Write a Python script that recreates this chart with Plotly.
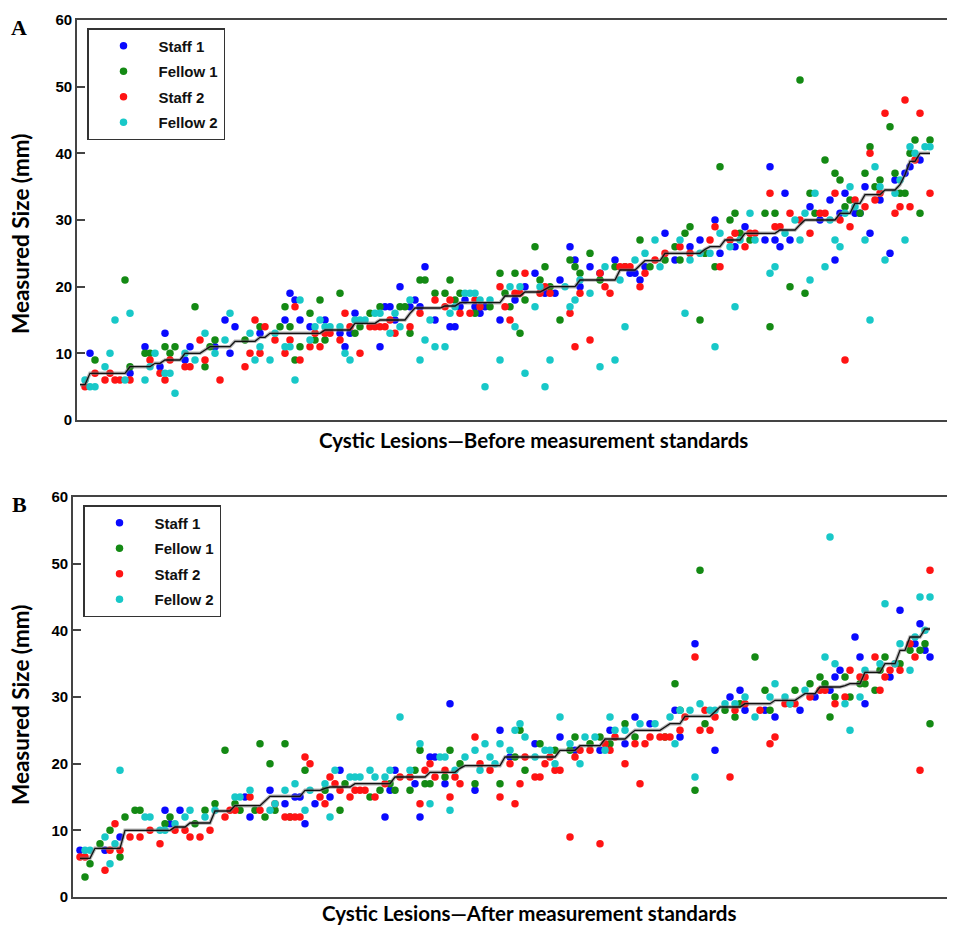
import numpy as np
import plotly.graph_objects as go

# ---------------- Panel A: before measurement standards ----------------
A_mean_levels = [5.3, 7.0, 8.0, 8.5, 9.0, 10.0, 10.5, 11.0, 11.8, 12.4, 13.0, 13.5, 14.5, 15.0, 16.0,
                 16.8, 17.1, 17.6, 18.6, 19.2, 19.6, 20.0, 21.0, 22.5, 23.2, 23.9, 25.0, 25.6, 26.0, 27.0,
                 28.0, 28.5, 29.3, 30.0, 31.0, 32.5, 33.8, 34.5, 35.3, 36.8, 38.8, 40.0]
A_mean_counts = [2, 8, 5, 2, 4, 4, 1, 5, 5, 2, 11, 6, 5, 6, 1, 6, 3, 9, 4, 4, 1, 6, 8, 4, 1, 4, 8, 1, 3, 4,
                 7, 4, 1, 7, 3, 2, 4, 3, 1, 1, 2, 3]

A_staff1_case = [3, 11, 14, 17, 18, 22, 23, 28, 30, 31, 32, 37, 42, 43, 44, 45, 47, 50, 53, 54, 55, 56, 61, 62, 63,
                 64, 65, 67, 68, 69, 70, 72, 75, 76, 77, 78, 80, 81, 82, 85, 88, 90, 92, 94, 96, 97, 99, 100, 101,
                 103, 105, 108, 111, 112, 113, 114, 118, 120, 123, 125, 128, 129, 132, 134, 138, 139, 140, 141,
                 142, 143, 147, 149, 151, 152, 153, 154, 156, 157, 158, 159, 161, 163, 164, 166, 167, 169]
A_staff1_mm = [10, 7, 11, 8, 13, 9, 11, 11, 15, 10, 14, 13, 15, 19, 18, 15, 14, 15, 13, 11, 13, 16, 11, 17, 17,
               15, 20, 17, 18, 17, 23, 15, 14, 14, 17, 18, 17, 16, 17, 15, 18, 20, 22, 19, 19, 21, 26, 24, 20,
               23, 22, 24, 22, 22, 21, 23, 28, 24, 26, 27, 30, 25, 26, 29, 27, 38, 27, 26,
               34, 27, 32, 30, 33, 24, 31, 34, 31, 31, 35, 28, 33, 25, 36, 37, 38, 39]

A_fellow1_case = [4, 10, 11, 14, 15, 18, 19, 20, 24, 26, 27, 28, 34, 37, 41, 42,
                  43, 44, 45, 47, 48, 49, 50, 53, 56, 57, 59, 61, 65, 66, 67, 69, 70, 72, 74, 75, 76, 77, 80, 83, 85, 86,
                  87, 88, 89, 90, 92, 93, 94, 95, 97, 99, 100, 101, 103, 105, 108, 110, 113, 115, 118, 120, 121, 122,
                  123, 125, 126, 128, 129, 131,
                  132, 133, 135, 138, 139, 140, 143, 145, 146, 147, 148, 150, 152, 153, 154, 155, 157, 158, 159, 160,
                  161, 163, 164, 165, 166, 167, 168, 169, 171]
A_fellow1_mm = [9, 21, 8, 10, 10, 11, 10, 11, 17, 8, 11, 12, 12, 14, 14, 17,
                14, 9, 11, 16, 12, 18, 12, 19, 13, 14, 16, 17, 17, 17, 13, 21, 21, 19, 19, 21, 18, 19, 16, 17, 22, 19,
                17, 22, 13, 18, 26, 21, 23, 20, 15, 24, 23, 22, 25, 21, 23, 23, 27, 23, 24, 26, 24, 28,
                29, 15, 25, 23, 38, 30,
                31, 28, 27, 31, 14, 31, 20, 51, 19, 34, 31, 39, 37, 36, 32, 33, 31, 37, 41, 35,
                36, 44, 37, 34, 34, 40, 42, 31, 42]

A_staff2_case = [2, 4, 6, 7, 8, 9, 11, 15, 17, 18, 19, 22, 23, 25, 26, 29, 34, 35, 36, 37, 38, 40, 42,
                 43, 44, 45, 47, 48, 49, 50, 51, 53, 54, 55, 57, 59, 60, 61, 62, 63, 64, 67, 69, 72, 74, 75, 77, 79,
                 80, 81, 85, 86, 87,
                 88, 89, 90, 93, 94, 95, 99, 100, 101, 103, 105, 106, 107, 109, 110, 111, 113, 114, 116, 118, 121,
                 123, 127, 128, 129, 131,
                 132, 134, 135, 136, 139, 140, 141, 143, 145, 147, 149, 150, 152, 153, 154, 155, 156, 158, 159, 160,
                 161, 162, 164, 165, 166, 167, 168, 169, 171]
A_staff2_mm = [5, 7, 6, 7, 6, 6, 6, 9, 7, 6, 9, 8, 8, 12, 9, 6, 8, 10, 15, 10, 14, 12, 10,
               12, 17, 9, 11, 13, 11, 13, 13, 12, 16, 14, 10, 14, 14, 14, 14, 15, 13, 14, 16, 18, 17, 18, 16, 16,
               18, 17, 20, 17, 15,
               19, 19, 22, 19, 20, 19, 16, 11, 19, 12, 22, 20, 19, 23, 23, 23, 20, 22, 24, 25, 26,
               25, 27, 29, 23, 27,
               28, 26, 28, 28, 34, 29, 29, 31, 30, 28, 31, 31, 34, 30, 9, 29, 33, 32, 40, 33,
               34, 46, 31, 32, 48, 32, 39, 46, 34]

A_fellow2_case = [2, 3, 4, 6, 7, 8, 10, 11, 14, 15, 16, 18, 19, 20, 22, 24, 26, 28, 30, 31, 35, 36, 37, 39, 40, 42,
                  43, 44, 45, 47, 48, 49, 50, 51, 53, 54, 55, 56, 57, 58, 60, 61, 63, 64, 65, 67, 69, 70, 71, 72, 74,
                  75, 76, 78, 79, 80, 81, 82, 83, 85, 87,
                  88, 89, 90, 92, 93, 94, 95, 98, 99, 100, 101, 103, 105, 106, 108, 109, 110, 112, 114, 116, 117, 121,
                  122, 123, 125, 127, 128, 129, 131,
                  132, 133, 135, 136, 139, 140, 142, 144, 145, 146, 147, 148, 150, 151, 152, 153, 154, 155, 156, 158,
                  159, 160, 161, 162, 164, 165, 166, 167, 168, 170, 171]
A_fellow2_mm = [6, 5, 5, 8, 10, 15, 6, 16, 6, 8, 10, 7, 7, 4, 10, 9, 13, 10, 12, 16, 13, 9, 11, 9, 13, 11,
                11, 6, 18, 12, 14, 15, 14, 14, 14, 10, 9, 15, 15, 15, 16, 16, 13, 16, 14, 18, 9, 12, 15, 11, 11,
                16, 17, 19, 19, 19, 18, 5, 18, 9, 20,
                14, 20, 7, 17, 20, 5, 9, 20, 17, 18, 21, 19, 8, 23, 9, 21, 14, 24, 25, 27, 23, 27,
                16, 24, 25, 25, 11, 28, 26,
                17, 27, 31, 27, 22, 23, 28, 30, 27, 31, 21, 34, 23, 30, 27, 26, 31, 35, 32, 27,
                15, 38, 35, 24, 34, 36, 27, 41, 40, 41, 41]

# ---------------- Panel B: after measurement standards ----------------
B_mean_levels = [5.8, 7.3, 10.0, 10.5, 11.1, 12.9, 13.7, 14.4, 15.1, 16.0, 16.3, 16.5, 17.0, 18.0, 18.7,
                 19.3, 19.7, 21.0, 22.0, 22.7, 23.7, 24.4, 25.0, 25.5, 26.0, 27.1, 27.8, 28.5, 29.0, 29.5,
                 30.0, 30.5, 31.5, 31.7, 32.0, 33.7, 35.0, 37.0, 39.0, 40.2]
B_mean_counts = [3, 6, 10, 3, 5, 4, 6, 1, 7, 4, 1, 5, 8, 7, 6, 1, 8, 11, 4, 5, 5, 1, 6, 1, 3, 6, 1, 5, 6, 5,
                 1, 3, 5, 1, 3, 4, 3, 2, 3, 2]

B_staff1_case = [1, 6, 9, 18, 19, 21, 34, 35, 39, 42,
                 44, 45, 46, 48, 51, 53, 62, 63, 64, 68, 69, 71, 72, 74, 75, 80, 85, 87,
                 92, 97, 100, 105, 107, 110, 112, 115, 120, 121, 124, 128, 131,
                 133, 134, 138, 140, 145, 148, 151, 152, 153, 156, 157, 158, 163, 165, 168, 169, 170, 171]
B_staff1_mm = [7, 7, 9, 13, 11, 13, 15, 12, 16, 14,
               15, 15, 11, 14, 15, 19, 12, 16, 19, 17, 12, 21, 21, 17, 29, 16, 25, 21,
               23, 24, 22, 22, 25, 23, 27, 26, 28, 24, 38, 22, 30,
               31, 28, 28, 27, 28, 30, 31, 33, 34, 39, 36, 29, 33, 43, 38, 41, 37, 36]

B_fellow1_case = [2, 3, 5, 7, 9, 10, 12, 13, 18, 19, 24, 26, 28, 30, 32, 33, 36, 37, 38, 39, 40, 42, 43,
                  46, 50, 53, 54, 59, 61, 63, 64, 67, 68, 69, 70, 71, 74, 75, 77, 80, 85,
                  88, 89, 90, 93, 96, 99, 100, 103, 105, 107, 110, 112, 118, 120, 121, 124, 125, 126, 130,
                  132, 133, 136, 138, 139, 143, 144, 147, 149, 150, 151, 152, 154, 155, 157, 158, 160, 161, 162,
                  165, 167, 169, 170, 171]
B_fellow1_mm = [3, 5, 8, 10, 6, 12, 13, 13, 11, 12, 11, 13, 14, 22, 14, 13, 13, 23, 12, 20, 13, 23, 12,
                19, 16, 13, 17, 15, 16, 17, 16, 16, 19, 22, 17, 17, 18, 22, 20, 17, 17,
                21, 25, 19, 23, 22, 22, 24, 23, 24, 23, 26, 24, 24, 32, 28, 16, 49, 26, 28,
                27, 29, 36, 31, 28, 29, 31, 32, 33, 32, 27, 30, 33, 30, 32, 32, 31, 34, 36,
                35, 37, 37, 38, 26]

B_staff2_case = [1, 2, 6, 7, 8, 9, 11, 13, 15, 17, 20, 22, 23, 25, 27, 30, 31, 32, 35, 37, 40, 42, 43,
                 44, 45, 46, 47, 49, 50, 51, 52, 53, 55, 56, 57, 58, 60, 62, 65, 67, 69, 70, 71, 72, 74, 75, 76,
                 77, 80, 81, 83, 85, 87,
                 88, 89, 90, 92, 93, 94, 95, 96, 97, 99, 100, 101, 103, 105, 106, 107, 108, 110, 112, 113, 114,
                 115, 117, 118, 119, 121, 122, 124, 125, 126, 127, 128, 131,
                 132, 134, 137, 139, 140, 142, 144, 147, 149, 150, 152, 154, 155, 157, 158, 160, 161, 162, 163,
                 164, 165, 167, 168, 169, 171]
B_staff2_mm = [6, 6, 4, 7, 11, 7, 9, 9, 10, 8, 10, 10, 9, 9, 10, 12, 13, 13, 15, 13, 14, 12, 12,
               12, 12, 21, 20, 15, 14, 18, 17, 16, 15, 16, 16, 16, 15, 17, 18, 18, 14, 19, 20, 18, 19, 15, 18,
               17, 24, 20, 19, 15, 20,
               14, 17, 21, 18, 18, 20, 21, 19, 19, 9, 21, 22, 22, 8, 23, 22, 24, 20, 23, 17, 23,
               24, 24, 24, 24, 25, 27, 36, 25, 28, 25, 27, 18,
               28, 29, 28, 23, 24, 29, 29, 30, 31, 31, 29, 30, 34, 33, 33, 36, 31, 33, 34,
               35, 34, 38, 36, 19, 49]

B_fellow2_case = [2, 3, 6, 7, 8, 9, 14, 15, 17, 18, 20, 22, 23, 26, 28, 32, 33, 35, 39, 40, 42,
                  44, 46, 47, 50, 51, 52, 55, 56, 57, 59, 60, 62, 63, 65, 67, 69, 71, 73, 74, 75, 76, 78, 80, 81, 82,
                  83, 84, 85, 87,
                  88, 89, 90, 92, 94, 95, 96, 97, 99, 101, 102, 104, 106, 107, 108, 110, 113, 116, 119, 120, 121,
                  123, 124, 125, 127, 128, 130,
                  132, 134, 136, 139, 140, 142, 143, 146, 150, 151, 152, 154, 155, 157, 158, 161, 162, 164, 165,
                  167, 168, 169, 170, 171]
B_fellow2_mm = [7, 7, 9, 5, 8, 19, 12, 12, 10, 10, 11, 12, 13, 12, 13, 15, 15, 16, 13, 14, 16,
                17, 13, 16, 17, 12, 19, 18, 18, 18, 19, 18, 18, 19, 27, 19, 23, 14, 21, 21, 13, 19, 21, 22, 19, 23,
                21, 20, 23, 22,
                25, 26, 24, 21, 22, 22, 20, 27, 23, 20, 24, 24, 22, 27, 25, 25, 26, 26, 27, 23, 28,
                28, 18, 29, 28, 28, 29,
                29, 30, 27, 30, 32, 30, 29, 31, 36, 54, 35, 29, 25, 30, 34, 35, 44, 35, 38,
                34, 39, 45, 40, 45]

SERIES_NAMES = ["Staff 1", "Fellow 1", "Staff 2", "Fellow 2"]
SERIES_COLORS = ["#0a0aff", "#148a14", "#ff1414", "#18c8c8"]

X_TITLES = ["Cystic Lesions\u2014Before measurement standards",
            "Cystic Lesions\u2014After measurement standards"]

# ---------------- figure ----------------
# The page body has an 8px margin, so the figure is made 8px smaller and
# every page-pixel position below is shifted by that offset.
PAGE_W, PAGE_H, BODY = 955, 928, 8
W, H = PAGE_W - BODY, PAGE_H - BODY
fig = go.Figure()

panels = [
    dict(xa="x", ya="y", legend="legend",
         mean=(A_mean_levels, A_mean_counts),
         series=[(A_staff1_case, A_staff1_mm), (A_fellow1_case, A_fellow1_mm),
                 (A_staff2_case, A_staff2_mm), (A_fellow2_case, A_fellow2_mm)]),
    dict(xa="x2", ya="y2", legend="legend2",
         mean=(B_mean_levels, B_mean_counts),
         series=[(B_staff1_case, B_staff1_mm), (B_fellow1_case, B_fellow1_mm),
                 (B_staff2_case, B_staff2_mm), (B_fellow2_case, B_fellow2_mm)]),
]

for p in panels:
    for k, (cases, mm) in enumerate(p["series"]):
        fig.add_trace(go.Scatter(
            x=cases, y=mm, mode="markers", name=SERIES_NAMES[k],
            xaxis=p["xa"], yaxis=p["ya"], legend=p["legend"],
            legendgroup=p["legend"] + str(k),
            marker=dict(color=SERIES_COLORS[k], size=7.5, symbol="circle", line=dict(width=0)),
        ))
    levels, counts = p["mean"]
    mean_vals = np.repeat(levels, counts)
    mean_case = np.arange(1, len(mean_vals) + 1)
    fig.add_trace(go.Scatter(x=mean_case, y=mean_vals, mode="lines", showlegend=False,
                             xaxis=p["xa"], yaxis=p["ya"],
                             line=dict(color="rgba(120,120,120,0.55)", width=3.5)))
    fig.add_trace(go.Scatter(x=mean_case, y=mean_vals, mode="lines", showlegend=False,
                             xaxis=p["xa"], yaxis=p["ya"],
                             line=dict(color="#111111", width=1.3)))

def px_x(v):
    return (v - BODY) / W

def px_y(v):
    return 1 - (v - BODY) / H

tick_font = dict(family="Liberation Sans, Arial", size=15, color="#000000", weight="bold")
axis_common = dict(showgrid=False, zeroline=False, showline=True, linecolor="#444444", linewidth=1.6,
                   automargin=False)

# page-pixel geometry of the two plot frames
frames = [dict(left=77, top=20, bottom=420, ycenter=234, xcenter=533, xtitle_y=440, letter_y=27),
          dict(left=73, top=497, bottom=897, ycenter=705, xcenter=529, xtitle_y=913, letter_y=504)]

legend_common = dict(xanchor="left", yanchor="top",
                     bgcolor="white", bordercolor="#333333", borderwidth=1.5,
                     font=dict(family="Liberation Sans, Arial", size=15, color="#111111", weight="bold"),
                     itemwidth=60, tracegroupgap=3)

fig.update_layout(
    width=W, height=H,
    paper_bgcolor="white", plot_bgcolor="white",
    margin=dict(l=0, r=0, t=0, b=0, autoexpand=False),
    xaxis=dict(domain=[px_x(frames[0]["left"]), 1.0], range=[0.4, 176], showticklabels=False,
               ticks="", mirror=True, anchor="y", **axis_common),
    yaxis=dict(domain=[px_y(frames[0]["bottom"]), px_y(frames[0]["top"])], range=[0, 60], dtick=10,
               ticks="inside", ticklen=8, tickwidth=1.5, tickcolor="#444444", mirror="ticks",
               tickfont=tick_font, anchor="x", **axis_common),
    xaxis2=dict(domain=[px_x(frames[1]["left"]), 1.0], range=[-0.4, 176], showticklabels=False,
                ticks="", mirror=True, anchor="y2", **axis_common),
    yaxis2=dict(domain=[px_y(frames[1]["bottom"]), px_y(frames[1]["top"])], range=[0, 60], dtick=10,
                ticks="inside", ticklen=8, tickwidth=1.5, tickcolor="#444444", mirror="ticks",
                tickfont=tick_font, anchor="x2", **axis_common),
    legend=dict(x=px_x(87), y=px_y(28), **legend_common),
    legend2=dict(x=px_x(83), y=px_y(505), **legend_common),
    showlegend=True,
)

ytitle_font = dict(family="Lato, Open Sans", size=22.5, color="#000000", weight="bold")
xtitle_font = dict(family="Lato, Open Sans", size=20.5, color="#000000", weight="bold")
annotations = []
for idx, fr in enumerate(frames):
    annotations.append(dict(text="Measured Size (mm)", textangle=-90, font=ytitle_font,
                            xref="paper", yref="paper", x=px_x(20), y=px_y(fr["ycenter"]),
                            xanchor="center", yanchor="middle", showarrow=False))
    annotations.append(dict(text=X_TITLES[idx], font=xtitle_font,
                            xref="paper", yref="paper", x=px_x(fr["xcenter"]),
                            y=px_y(fr["xtitle_y"]), xanchor="center", yanchor="middle",
                            showarrow=False))
    annotations.append(dict(text="A" if idx == 0 else "B",
                            font=dict(family="Liberation Serif, Times New Roman", size=22,
                                      color="#000000", weight="bold"),
                            xref="paper", yref="paper", x=px_x(19), y=px_y(fr["letter_y"]),
                            xanchor="center", yanchor="middle", showarrow=False))
fig.update_layout(annotations=annotations)

fig.write_html("out.html")
